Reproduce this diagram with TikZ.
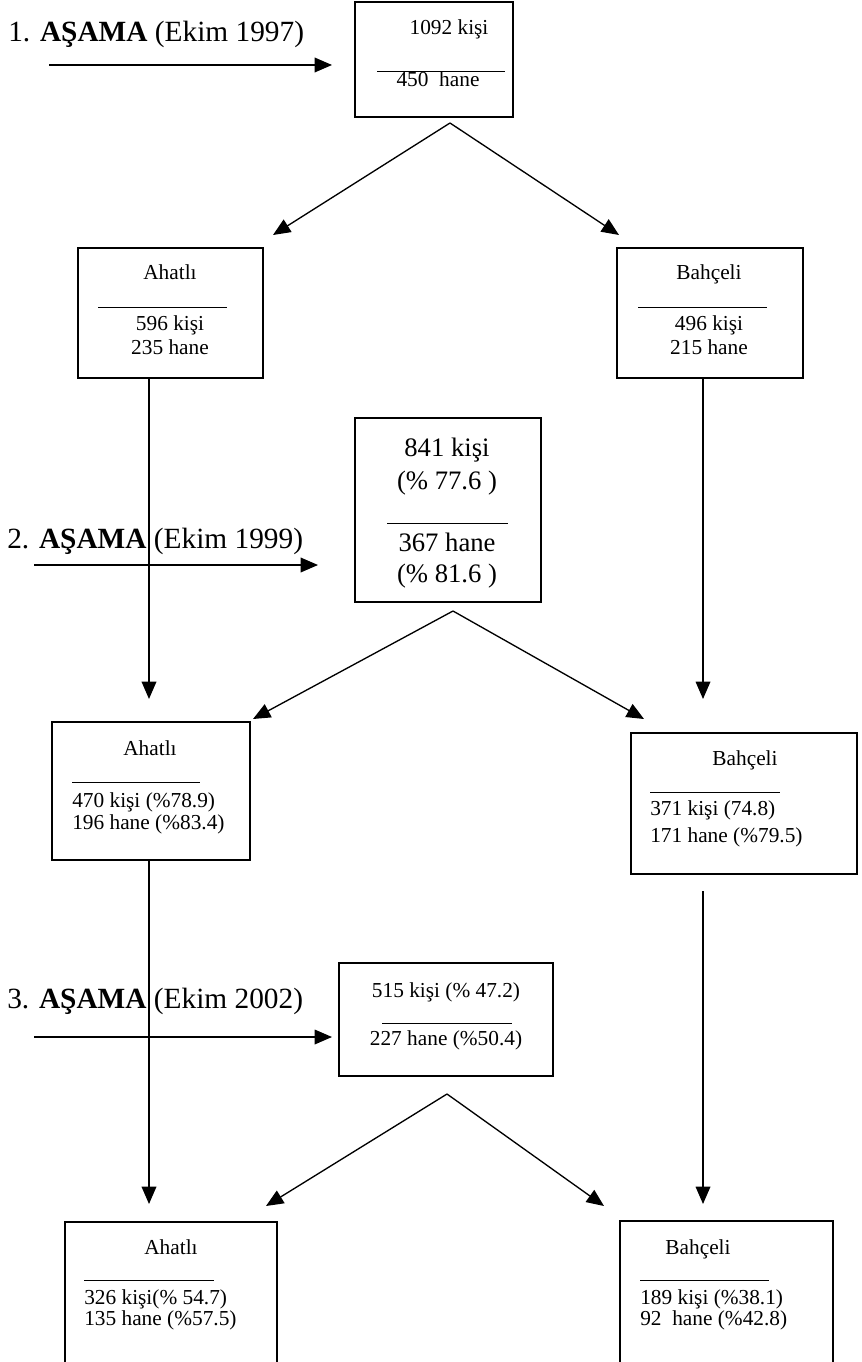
\documentclass[tikz,border=0pt]{standalone}
\usepackage{fontspec}
\setmainfont{Liberation Serif}
\usetikzlibrary{arrows.meta,fit,calc}
\tikzset{
  box/.style={draw=black, line width=1.5pt, inner sep=0pt},
  txt/.style={inner sep=0pt, anchor=base, font=\fontsize{16}{19}\selectfont},
  ltxt/.style={txt, anchor=base west},
  big/.style={txt, font=\fontsize{20}{24}\selectfont},
  stage/.style={inner sep=0pt, anchor=base west, font=\fontsize{22}{26}\selectfont},
  flow/.style={-{Triangle[length=13pt,width=11pt]}, line width=1pt},
  sep/.style={line width=0.6pt},
}

\begin{document}
\begin{tikzpicture}[x=0.75pt, y=-0.75pt]
    \useasboundingbox (0,0) rectangle (862,1362);
    \fill[white] (0,0) rectangle (862,1362);
    \clip (0,0) rectangle (862,1362);
    % boxes
    \node[box, fit={(355,2) (513,117)}] (top) {};
    \node[box, fit={(78,248) (263,378)}] (a1) {};
    \node[box, fit={(617,248) (803,378)}] (b1) {};
    \node[box, fit={(355,418) (541,602)}] (mid) {};
    \node[box, fit={(52,722) (250,860)}] (a2) {};
    \node[box, fit={(631,733) (857,874)}] (b2) {};
    \node[box, fit={(339,963) (553,1076)}] (low) {};
    \node[box, fit={(65,1222) (277,1400)}] (a3) {};
    \node[box, fit={(620,1221) (833,1400)}] (b3) {};
    % stages
    \node[stage] (st1) at (8,42) {1. \textbf{AŞAMA} (Ekim 1997)};
    \node[stage] (st2) at (7,548) {2. \textbf{AŞAMA} (Ekim 1999)};
    \node[stage] (st3) at (7,1008) {3. \textbf{AŞAMA} (Ekim 2002)};
    \coordinate (s1) at (49,65);
    \coordinate (s2) at (34,565);
    \coordinate (s3) at (34,1037);
    \draw[flow, shorten >=16.5pt] (s1) -- (s1 -| top.west);
    \draw[flow, shorten >=27pt] (s2) -- (s2 -| mid.west);
    \draw[flow, shorten >=4.5pt] (s3) -- (s3 -| low.west);
    % texts
    \node[txt] (t1a) at (449,35) {1092 kişi};
    \draw[sep] (377,71) -- (505,71);
    \node[txt] (t1b) at (438,87) {450~~hane};
    \node[txt] (a1a) at (170,280) {Ahatlı};
    \draw[sep] (98,307) -- (227,307);
    \node[txt] (a1b) at (170,330) {596 kişi};
    \node[txt] (a1c) at (170,354) {235 hane};
    \node[txt] (b1a) at (709,280) {Bahçeli};
    \draw[sep] (638,307) -- (767,307);
    \node[txt] (b1b) at (709,330) {496 kişi};
    \node[txt] (b1c) at (709,354) {215 hane};
    \node[big] (m1) at (447,456) {841 kişi};
    \node[big] (m2) at (447,489) {(\% 77.6 )};
    \draw[sep] (387,523) -- (508,523);
    \node[big] (m3) at (447,551) {367 hane};
    \node[big] (m4) at (447,582) {(\% 81.6 )};
    \node[txt] (a2a) at (150,755) {Ahatlı};
    \draw[sep] (72,782) -- (200,782);
    \node[ltxt] (a2b) at (72,807) {470 kişi (\%78.9)};
    \node[ltxt] (a2c) at (72,829) {196 hane (\%83.4)};
    \node[txt] (b2a) at (745,765) {Bahçeli};
    \draw[sep] (650,792) -- (780,792);
    \node[ltxt] (b2b) at (650,815) {371 kişi (74.8)};
    \node[ltxt] (b2c) at (650,842) {171 hane (\%79.5)};
    \node[txt] (l1) at (446,997) {515 kişi (\% 47.2)};
    \draw[sep] (382,1023) -- (512,1023);
    \node[txt] (l2) at (446,1045) {227 hane (\%50.4)};
    \node[txt] (a3a) at (171,1254) {Ahatlı};
    \draw[sep] (84,1280) -- (214,1280);
    \node[ltxt] (a3b) at (84,1304) {326 kişi(\% 54.7)};
    \node[ltxt] (a3c) at (84,1325) {135 hane (\%57.5)};
    \node[txt] (b3a) at (698,1254) {Bahçeli};
    \draw[sep] (640,1280) -- (769,1280);
    \node[ltxt] (b3b) at (640,1304) {189 kişi (\%38.1)};
    \node[ltxt] (b3c) at (640,1325) {92~~hane (\%42.8)};
    % splits
    \draw[flow] ($(top.south)+(16,5)$) -- ($(a1.north east)+(9,-12)$);
    \draw[flow] ($(top.south)+(16,5)$) -- ($(b1.north west)+(3,-12)$);
    \draw[flow] ($(mid.south)+(5,8)$) -- ($(a2.north east)+(2,-2)$);
    \draw[flow] ($(mid.south)+(5,8)$) -- ($(b2.north west)+(14,-13)$);
    \draw[flow] ($(low.south)+(1,17)$) -- ($(a3.north east)+(-12,-15)$);
    \draw[flow] ($(low.south)+(1,17)$) -- ($(b3.north west)+(-15,-14)$);
    % follow-ups
    \draw[flow] ($(a1.south)+(-21.5,0)$) -- ($(a2.north)+(-2,-22)$);
    \draw[flow] ($(b1.south)+(-7,0)$) -- ($(b2.north)+(-41,-33)$);
    \draw[flow] ($(a2.south)+(-2,0)$) -- ($(a3.north)+(-22,-17)$);
    \draw[flow] ($(b2.south)+(-41,16)$) -- ($(b3.north)+(-23.5,-16)$);
\end{tikzpicture}
\end{document}
